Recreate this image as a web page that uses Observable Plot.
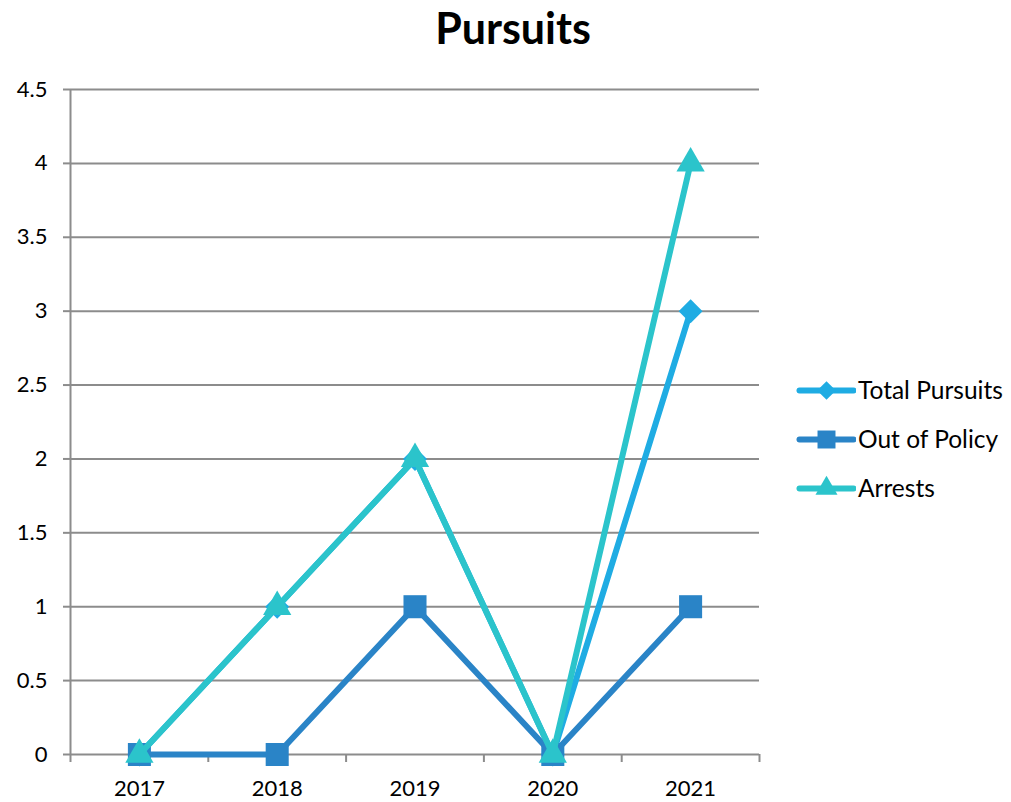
<!DOCTYPE html>
<html>
<head>
<meta charset="utf-8">
<script src="https://cdn.jsdelivr.net/npm/d3@7"></script>
<script src="https://cdn.jsdelivr.net/npm/@observablehq/plot@0.6"></script>
<style>
  html, body { margin: 0; padding: 0; background: #fff; }
  #wrap { position: relative; width: 1011px; height: 802px; font-family: Lato, "Open Sans", sans-serif; }
  #title { position: absolute; left: 0; top: 0; width: 1026px; height: 60px; text-align: center; font-weight: bold; font-size: 43px; line-height: 56px; color: #000; }
  #chart { position: absolute; left: 0; top: 60px; }
  #legend { position: absolute; left: 796px; top: 365px; font-size: 24.5px; color: #000; }
  .item { display: flex; align-items: center; height: 49px; }
  .item svg { margin-right: 2px; }
</style>
</head>
<body>
<div id="wrap">
  <div id="title">Pursuits</div>
  <div id="chart"></div>
  <div id="legend"></div>
</div>
<script>
const years = [2017, 2018, 2019, 2020, 2021];
const totalPursuits = [0, 1, 2, 0, 3];
const outOfPolicy = [0, 0, 1, 0, 1];
const arrests = [0, 1, 2, 0, 4];
const yTicks = [0, 0.5, 1, 1.5, 2, 2.5, 3, 3.5, 4, 4.5];

const seriesNames = ["Total Pursuits", "Out of Policy", "Arrests"];
const seriesValues = [totalPursuits, outOfPolicy, arrests];
const seriesColors = ["#1FACE3", "#2A84C7", "#2BC4CB"];
const seriesSymbols = ["diamond2", "square", "triangle"];
const seriesR = [10.8, 13, 10.5];

const boundaries = [years[0] - 0.5, ...years.map(y => y + 0.5)];

const marks = [
  Plot.gridY(yTicks, {stroke: "#8c8c8c", strokeOpacity: 1, strokeWidth: 2}),
  Plot.axisY(yTicks, {tickSize: 7, tickPadding: 16, stroke: "#8c8c8c", strokeWidth: 2, fontSize: 22, fill: "#000", label: null, tickFormat: d => String(d)}),
  Plot.axisX(years, {tickSize: 0, tickPadding: 26, fontSize: 22, fill: "#000", label: null, tickFormat: d => String(d)}),
  Plot.axisX(boundaries, {tickSize: 8, stroke: "#8c8c8c", strokeWidth: 2, tickFormat: () => "", label: null}),
  Plot.ruleX([boundaries[0]], {stroke: "#8c8c8c", strokeWidth: 2})
];

seriesNames.forEach((name, i) => {
  const data = years.map((y, j) => ({year: y, value: seriesValues[i][j]}));
  marks.push(Plot.line(data, {x: "year", y: "value", stroke: seriesColors[i], strokeWidth: 6, strokeLinecap: "round", strokeLinejoin: "round"}));
  marks.push(Plot.dot(data, {x: "year", y: "value", symbol: seriesSymbols[i], r: seriesR[i], fill: seriesColors[i], stroke: "none"}));
});

const chart = Plot.plot({
  width: 1011,
  height: 742,
  marginTop: 29,
  marginBottom: 48,
  marginLeft: 70,
  marginRight: 252,
  style: {fontFamily: "Lato, 'Open Sans', sans-serif", background: "#fff"},
  x: {type: "linear", domain: [boundaries[0], boundaries[boundaries.length - 1]], axis: null},
  y: {domain: [0, 4.5], axis: null},
  marks
});
document.getElementById("chart").appendChild(chart);

const legend = document.getElementById("legend");
seriesNames.forEach((name, i) => {
  const item = document.createElement("div");
  item.className = "item";
  const sw = Plot.plot({
    width: 60, height: 30, margin: 0,
    x: {domain: [0, 1], axis: null}, y: {domain: [0, 1], axis: null},
    marks: [
      Plot.line([{x: 0.05, y: 0.5}, {x: 0.95, y: 0.5}], {x: "x", y: "y", stroke: seriesColors[i], strokeWidth: 6, strokeLinecap: "round"}),
      Plot.dot([{x: 0.5, y: 0.5}], {x: "x", y: "y", symbol: seriesSymbols[i], r: seriesR[i] * 0.78, fill: seriesColors[i]})
    ]
  });
  item.appendChild(sw);
  const t = document.createElement("span");
  t.textContent = name;
  item.appendChild(t);
  legend.appendChild(item);
});
</script>
</body>
</html>
